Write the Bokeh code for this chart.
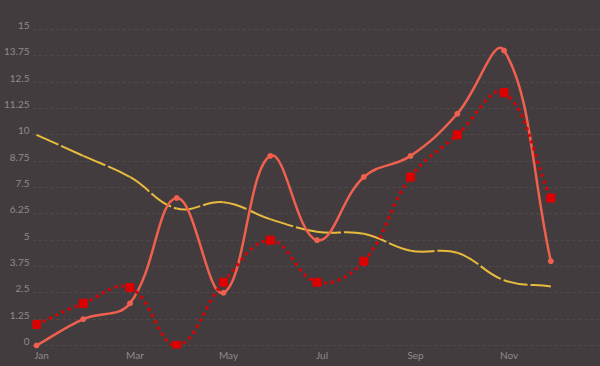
import numpy as np
from bokeh.plotting import figure
from bokeh.models import Range1d, LinearAxis, FixedTicker, Grid, GlobalInlineStyleSheet
from bokeh.embed import file_html
from bokeh.resources import INLINE

# ---- data ----
months = ["Jan", "Feb", "Mar", "Apr", "May", "Jun", "Jul", "Aug", "Sep", "Oct", "Nov", "Dec"]
solid_vals = [0, 1.25, 2.0, 7.0, 2.5, 9.0, 5.0, 8.0, 9.0, 11.0, 14.0, 4.0]
dotted_vals = [1.0, 2.0, 2.75, 0.0, 3.0, 5.0, 3.0, 4.0, 8.0, 10.0, 12.0, 7.0]
dashed_vals = [10.0, 9.0, 8.0, 6.5, 6.8, 6.0, 5.4, 5.3, 4.5, 4.4, 3.1, 2.8]
y_ticks = [0, 1.25, 2.5, 3.75, 5, 6.25, 7.5, 8.75, 10, 11.25, 12.5, 13.75, 15]
y_tick_labels = ["0", "1.25", "2.5", "3.75", "5", "6.25", "7.5", "8.75", "10", "11.25", "12.5", "13.75", "15"]
x_tick_idx = [0, 2, 4, 6, 8, 10]

# ---- style / layout ----
BG = "#433c3e"
LABEL = "#8f8a8c"
W, H = 600, 366
LEFT, BOTTOM = 28, 18
PX_X = 47.09   # px per month
PX_Y = 21.067  # px per unit

x = np.arange(len(months), dtype=float)
x_start = -4 / PX_X
x_end = x_start + (W - LEFT) / PX_X
y_start = -3 / PX_Y
y_end = y_start + (H - BOTTOM) / PX_Y

p = figure(width=W, height=H, output_backend="svg", toolbar_location=None,
           x_range=Range1d(x_start, x_end), y_range=Range1d(y_start, y_end),
           x_axis_location=None, y_axis_location=None,
           background_fill_color=BG, border_fill_color=BG,
           min_border_left=LEFT, min_border_right=0, min_border_top=0, min_border_bottom=BOTTOM)
p.outline_line_color = None
p.stylesheets = [GlobalInlineStyleSheet(css=f"html,body{{margin:0;padding:0;background:{BG};overflow:hidden;}}")]
for g in p.grid:
    g.grid_line_color = None
    g.visible = False

# label ranges shifted slightly (labels sit a little above / right of their ticks)
dy = 4 / PX_Y
dx = 5 / PX_X
p.extra_y_ranges = {"lbl": Range1d(y_start - dy, y_end - dy)}
p.extra_x_ranges = {"lbl": Range1d(x_start - dx, x_end - dx)}

grid = Grid(dimension=1, ticker=FixedTicker(ticks=y_ticks),
            grid_line_color="#524a4d", grid_line_dash="3 3", grid_line_width=1)
p.add_layout(grid)

yax = LinearAxis(y_range_name="lbl", ticker=FixedTicker(ticks=y_ticks),
                 major_label_overrides={t: l for t, l in zip(y_ticks, y_tick_labels)})
xax = LinearAxis(x_range_name="lbl", ticker=FixedTicker(ticks=x_tick_idx),
                 major_label_overrides={i: months[i] for i in x_tick_idx})
for ax in (xax, yax):
    ax.axis_line_color = None
    ax.major_tick_line_color = None
    ax.minor_tick_line_color = None
    ax.major_tick_out = 0
    ax.major_tick_in = 0
    ax.major_label_text_color = LABEL
    ax.major_label_text_font = "Lato"
    ax.major_label_text_font_size = "10px"
yax.major_label_standoff = 3
xax.major_label_standoff = 0
p.add_layout(yax, "left")
p.add_layout(xax, "below")


def bezier_ctrl(vals, t=0.4):
    xs = x * PX_X
    ys = np.asarray(vals, dtype=float) * PX_Y
    n = len(xs)
    pc = np.zeros((n, 2))
    nc = np.zeros((n, 2))
    for i in range(n):
        a = max(i - 1, 0)
        b = min(i + 1, n - 1)
        d01 = np.hypot(xs[i] - xs[a], ys[i] - ys[a])
        d12 = np.hypot(xs[b] - xs[i], ys[b] - ys[i])
        tot = d01 + d12
        s01 = d01 / tot if tot else 0
        s12 = d12 / tot if tot else 0
        fa, fb = t * s01, t * s12
        ddx, ddy = xs[b] - xs[a], ys[b] - ys[a]
        pc[i] = (xs[i] - fa * ddx, ys[i] - fa * ddy)
        nc[i] = (xs[i] + fb * ddx, ys[i] + fb * ddy)
    pc[:, 0] /= PX_X; nc[:, 0] /= PX_X
    pc[:, 1] /= PX_Y; nc[:, 1] /= PX_Y
    v = np.asarray(vals, dtype=float)
    return dict(x0=x[:-1], y0=v[:-1], x1=x[1:], y1=v[1:],
                cx0=nc[:-1, 0], cy0=nc[:-1, 1], cx1=pc[1:, 0], cy1=pc[1:, 1])


YEL = "#e8bb3c"
SOL = "#f0604f"
RED = "#dd0000"

p.bezier(**bezier_ctrl(dashed_vals), line_color=YEL, line_width=2, line_dash="24 3")
p.bezier(**bezier_ctrl(solid_vals), line_color=SOL, line_width=2.5)
p.scatter(x, solid_vals, marker="circle", size=5, fill_color=SOL, line_color=SOL)
p.bezier(**bezier_ctrl(dotted_vals), line_color=RED, line_width=3, line_dash="3 4")
p.scatter(x, dotted_vals, marker="square", size=8, fill_color=RED, line_color=RED)

open("out.html", "w").write(file_html(p, INLINE))
